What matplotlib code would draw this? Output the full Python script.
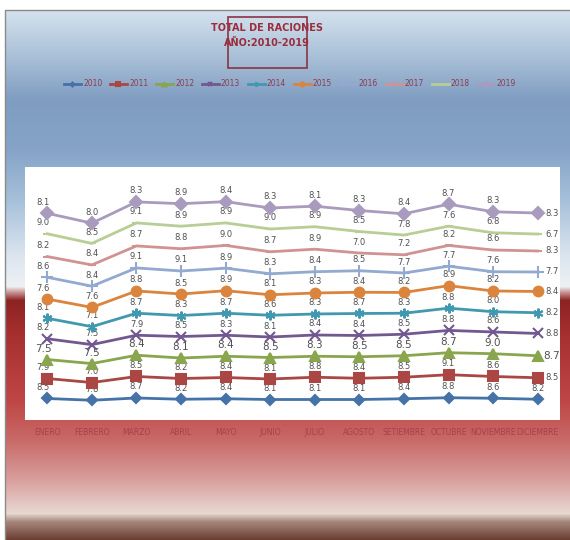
import numpy as np
import matplotlib
matplotlib.use("Agg")
from matplotlib import pyplot as plt
from matplotlib.patches import Rectangle
from matplotlib.colors import to_rgb

plt.rcParams['font.family'] = ['Liberation Sans Narrow', 'DejaVu Sans']

meses = ["ENERO", "FEBRERO", "MARZO", "ABRIL", "MAYO", "JUNIO", "JULIO",
         "AGOSTO", "SETIEMBRE", "OCTUBRE", "NOVIEMBRE", "DICIEMBRE"]
anios = ["2010", "2011", "2012", "2013", "2014", "2015", "2016", "2017", "2018", "2019"]

v2010 = [8.5, 7.8, 8.7, 8.2, 8.4, 8.1, 8.1, 8.1, 8.4, 8.8, 8.6, 8.2]
v2011 = [7.9, 7.0, 8.5, 8.2, 8.4, 8.1, 8.8, 8.4, 8.5, 9.1, 8.6, 8.5]
v2012 = [7.5, 7.5, 8.4, 8.1, 8.4, 8.5, 8.3, 8.5, 8.5, 8.7, 9.0, 8.7]
v2013 = [8.2, 7.5, 7.9, 8.5, 8.3, 8.1, 8.4, 8.4, 8.5, 8.8, 8.6, 8.8]
v2014 = [8.1, 7.1, 8.7, 8.3, 8.7, 8.6, 8.3, 8.7, 8.3, 8.8, 8.0, 8.2]
v2015 = [7.6, 7.6, 8.8, 8.5, 8.9, 8.1, 8.3, 8.4, 8.2, 8.9, 8.2, 8.4]
v2016 = [8.6, 8.4, 9.1, 9.1, 8.9, 8.3, 8.4, 8.5, 7.7, 7.7, 7.6, 7.7]
v2017 = [8.2, 8.4, 8.7, 8.8, 9.0, 8.7, 8.9, 7.0, 7.2, 8.2, 8.6, 8.3]
v2018 = [9.0, 8.5, 9.1, 8.9, 8.9, 9.0, 8.9, 8.5, 7.8, 7.6, 6.8, 6.7]
v2019 = [8.1, 8.0, 8.3, 8.9, 8.4, 8.3, 8.1, 8.3, 8.4, 8.7, 8.3, 8.3]

series = [v2010, v2011, v2012, v2013, v2014, v2015, v2016, v2017, v2018, v2019]
colores = ['#4572A7', '#AA4643', '#89A54E', '#71588F', '#4198AF',
           '#DB843D', '#93A9CF', '#D19392', '#B9CD96', '#A99BBD']
marcadores = ['D', 's', '^', 'x', (6, 2, 0), 'o', '+', '_', '_', 'D']
tam_marc = [5, 7, 7, 7, 7, 7, 8, 6, 6, 6]

W, H = 570, 540
fig = plt.figure(figsize=(W / 100, H / 100), dpi=100)

# fondo degradado (tipo Excel)
bg = fig.add_axes([0, 0, 1, 1], zorder=-10)
stops = [(10, '#d4e2ee'), (55, '#aac1d8'), (100, '#7f9cc1'), (150, '#86a4c8'),
         (200, '#a6c0da'), (255, '#dbe5ef'), (286, '#eef1f4'), (292, '#c89090'),
         (300, '#8c2222'), (330, '#a42e2e'), (400, '#bf4646'), (440, '#c86a68'),
         (480, '#d8a09e'), (505, '#e5cbc6'), (513, '#e6d9d0'), (521, '#a6887e'),
         (540, '#6a3a2e')]
filas = np.arange(H)
pos = [s[0] for s in stops]
rgb = np.array([to_rgb(s[1]) for s in stops])
grad = np.stack([np.interp(filas, pos, rgb[:, k]) for k in range(3)], axis=1)
img = np.repeat(grad[:, None, :], W, axis=1)
img[:10, :, :] = 1.0
img[:, :5, :] = 1.0
bg.imshow(img, extent=(0, W, H, 0), aspect='auto')
bg.plot([5, 5, W], [H, 10, 10], color='#8a8a8a', lw=1)
bg.set_xlim(0, W)
bg.set_ylim(H, 0)
bg.axis('off')

# titulo en caja
fig.patches.append(Rectangle((228 / W, 1 - 68 / H), 79 / W, 51 / H,
                             transform=fig.transFigure, fill=False,
                             edgecolor='#8b3344', lw=1.2))
fig.text(267 / W, 1 - 28 / H, "TOTAL DE RACIONES", ha='center', va='center',
         fontsize=7, color='#9b2d3c', fontweight='bold')
fig.text(267 / W, 1 - 43 / H, "AÑO:2010-2019", ha='center', va='center',
         fontsize=7, color='#9b2d3c', fontweight='bold')

ax = fig.add_axes([25 / W, 1 - 420 / H, 535 / W, 253 / H])
ax.set_facecolor('white')
x = np.arange(len(meses))
acum = np.zeros(len(meses))
lineas = []
for i, (vals, c) in enumerate(zip(series, colores)):
    acum = acum + np.array(vals)
    ln, = ax.plot(x, acum, color=c, lw=2, marker=marcadores[i], ms=tam_marc[i],
                  mec=c, mfc=c, mew=1.5, label=anios[i], zorder=3 + i)
    lineas.append(ln)
    fs = 7.5 if anios[i] == "2012" else 6
    for j, v in enumerate(vals):
        if j == len(vals) - 1 and anios[i] != "2010":
            ax.annotate(f"{v:.1f}", (x[j], acum[j]), xytext=(14, 0),
                        textcoords='offset pixels', ha='center', va='center',
                        fontsize=fs, color='#505050')
        else:
            dx = -4 if j == 0 else 0
            ax.annotate(f"{v:.1f}", (x[j], acum[j]), xytext=(dx, 11),
                        textcoords='offset pixels', ha='center', va='center',
                        fontsize=fs, color='#505050')

ax.set_xlim(-0.5, len(meses) - 0.5)
ax.set_ylim(0, 100)
ax.set_xticks(x)
ax.set_xticklabels(meses, fontsize=5.5, color='#a8404e')
ax.tick_params(axis='x', length=0, pad=6)
ax.set_yticks([])
for s in ax.spines.values():
    s.set_visible(False)

fig.legend(handles=lineas, loc='center', bbox_to_anchor=(290 / W, 1 - 84 / H),
           ncol=10, frameon=False, fontsize=5.5, labelcolor='#8c3c50',
           handlelength=2.2, handletextpad=0.3, columnspacing=1.0, markerscale=0.4)

fig.savefig("out.png", dpi=100)
